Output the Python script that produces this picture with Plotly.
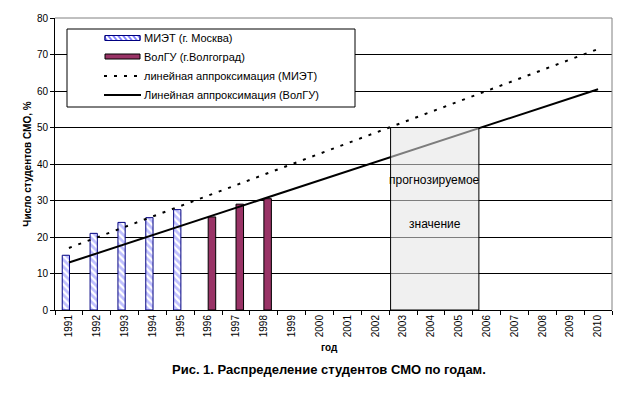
import plotly.graph_objects as go

years = [str(y) for y in range(1991, 2011)]
miet_years = ["1991", "1992", "1993", "1994", "1995"]
miet_vals = [15, 21, 24, 25.3, 27.5]
volgu_years = ["1996", "1997", "1998"]
volgu_vals = [25.5, 29, 30.5]
trend_years = ["1991", "2010"]
trend_miet = [17, 71.5]
trend_volgu = [13, 60.5]
forecast_x = [11.55, 14.72]  # category-index span of the forecast box
forecast_top = 50
forecast_labels = ["прогнозируемое", "значение"]
forecast_label_y = [35.6, 23.5]
names = ["МИЭТ (г. Москва)", "ВолГУ (г.Волгоград)",
         "линейная аппроксимация (МИЭТ)", "Линейная аппроксимация (ВолГУ)"]

FONT = "Liberation Sans, Arial, sans-serif"
MIET_FG = "#8080FF"
VOLGU = "#993366"

# page body has an 8px margin; work in window pixels and shift into figure pixels
OFF = 8
W, H = 624 - OFF, 395 - 2 * OFF
L, R, T, B = 55 - OFF, 612 - OFF, 18 - OFF, 310 - OFF
def px(x):
    return (x - OFF - L) / (R - L)
def py(y):
    return (B - (y - OFF)) / (B - T)

fig = go.Figure()
fig.add_trace(go.Bar(
    x=miet_years, y=miet_vals, name=names[0], width=0.26, offset=-0.24,
    marker=dict(color="white", line=dict(color="#000080", width=1),
                pattern=dict(shape="\\", fgcolor=MIET_FG, bgcolor="white", size=5, solidity=0.55)),
))
fig.add_trace(go.Bar(
    x=volgu_years, y=volgu_vals, name=names[1], width=0.27, offset=0.0,
    marker=dict(color=VOLGU, line=dict(color="black", width=1)),
))
fig.add_trace(go.Scatter(
    x=trend_years, y=trend_miet, mode="lines", name=names[2],
    line=dict(color="black", width=2, dash="3px,7px"),
))
fig.add_trace(go.Scatter(
    x=trend_years, y=trend_volgu, mode="lines", name=names[3],
    line=dict(color="black", width=2),
))

fig.add_shape(type="rect", xref="x", yref="y", x0=forecast_x[0], x1=forecast_x[1],
              y0=0, y1=forecast_top, fillcolor="rgba(228,228,228,0.55)",
              line=dict(color="black", width=1), layer="above")
for t, yv in zip(forecast_labels, forecast_label_y):
    fig.add_annotation(x=(forecast_x[0] + forecast_x[1]) / 2, y=yv, xref="x", yref="y",
                       text=t, showarrow=False, font=dict(size=12, color="black", family=FONT))

# plot border (top and right, gray)
fig.add_shape(type="line", xref="paper", yref="paper", x0=0, x1=1, y0=1, y1=1,
              line=dict(color="#808080", width=1), layer="above")
fig.add_shape(type="line", xref="paper", yref="paper", x0=1, x1=1, y0=0, y1=1,
              line=dict(color="#808080", width=1), layer="above")

# custom legend box
fig.add_shape(type="rect", xref="paper", yref="paper", x0=px(67), x1=px(355), y0=py(107), y1=py(29),
              fillcolor="white", line=dict(color="black", width=1), layer="above")
# MIET swatch with stripes
sx0, sx1, sy0, sy1 = 105, 140, 35.5, 40.5
fig.add_shape(type="rect", xref="paper", yref="paper", x0=px(sx0), x1=px(sx1), y0=py(sy1), y1=py(sy0),
              fillcolor="white", line=dict(color="#000080", width=1), layer="above")
segs = []
x = sx0 - 2
while x < sx1:
    xa, xb = x, x + 4
    ya, yb = sy0, sy1
    if xa < sx0:
        ya = sy0 + (sx0 - xa) * (sy1 - sy0) / 4; xa = sx0
    if xb > sx1:
        yb = sy1 - (xb - sx1) * (sy1 - sy0) / 4; xb = sx1
    segs.append(f"M{px(xa)},{py(ya)} L{px(xb)},{py(yb)}")
    x += 5
fig.add_shape(type="path", xref="paper", yref="paper", path=" ".join(segs),
              line=dict(color=MIET_FG, width=2), layer="above")
fig.add_shape(type="rect", xref="paper", yref="paper", x0=px(sx0), x1=px(sx1), y0=py(sy1), y1=py(sy0),
              fillcolor="rgba(0,0,0,0)", line=dict(color="#000080", width=1), layer="above")
# VolGU swatch
fig.add_shape(type="rect", xref="paper", yref="paper", x0=px(105), x1=px(140), y0=py(59), y1=py(54),
              fillcolor=VOLGU, line=dict(color="black", width=1), layer="above")
# line swatches
fig.add_shape(type="line", xref="paper", yref="paper", x0=px(104), x1=px(141), y0=py(76), y1=py(76),
              line=dict(color="black", width=2, dash="3px,7px"), layer="above")
fig.add_shape(type="line", xref="paper", yref="paper", x0=px(104), x1=px(141), y0=py(95), y1=py(95),
              line=dict(color="black", width=2), layer="above")
for name, yy in zip(names, [38, 57, 76, 95]):
    fig.add_annotation(xref="paper", yref="paper", x=px(142), y=py(yy), xanchor="left",
                       yanchor="middle", text=name, showarrow=False,
                       font=dict(size=11, color="black", family=FONT))

fig.add_annotation(xref="paper", yref="paper", x=px(329), y=py(355), text="<b>год</b>",
                   showarrow=False, font=dict(size=10, color="black", family=FONT))
fig.add_annotation(xref="paper", yref="paper", x=px(329), y=py(379),
                   text="<b>Рис. 1. Распределение студентов СМО по годам.</b>",
                   showarrow=False, font=dict(size=13, color="black", family=FONT))

fig.update_layout(
    width=W, height=H,
    margin=dict(l=L, r=W - R, t=T, b=H - B, pad=0),
    paper_bgcolor="white", plot_bgcolor="white",
    font=dict(family=FONT, size=10, color="black"),
    barmode="overlay", showlegend=False,
    xaxis=dict(type="category", categoryorder="array", categoryarray=years,
               range=[-0.5, 19.5], tickson="boundaries", ticks="outside", ticklen=4,
               tickcolor="black", showline=True, linecolor="black", linewidth=1,
               tickangle=-90, showgrid=False, tickfont=dict(size=10), automargin=False),
    yaxis=dict(range=[0, 80], dtick=10, ticks="outside", ticklen=4, tickcolor="black",
               showline=True, linecolor="black", linewidth=1, showgrid=True,
               gridcolor="black", gridwidth=1, zeroline=False, automargin=False,
               title=dict(text="<b>Число студентов СМО, %</b>", font=dict(size=10), standoff=3),
               tickfont=dict(size=10)),
)

fig.write_html("out.html")
